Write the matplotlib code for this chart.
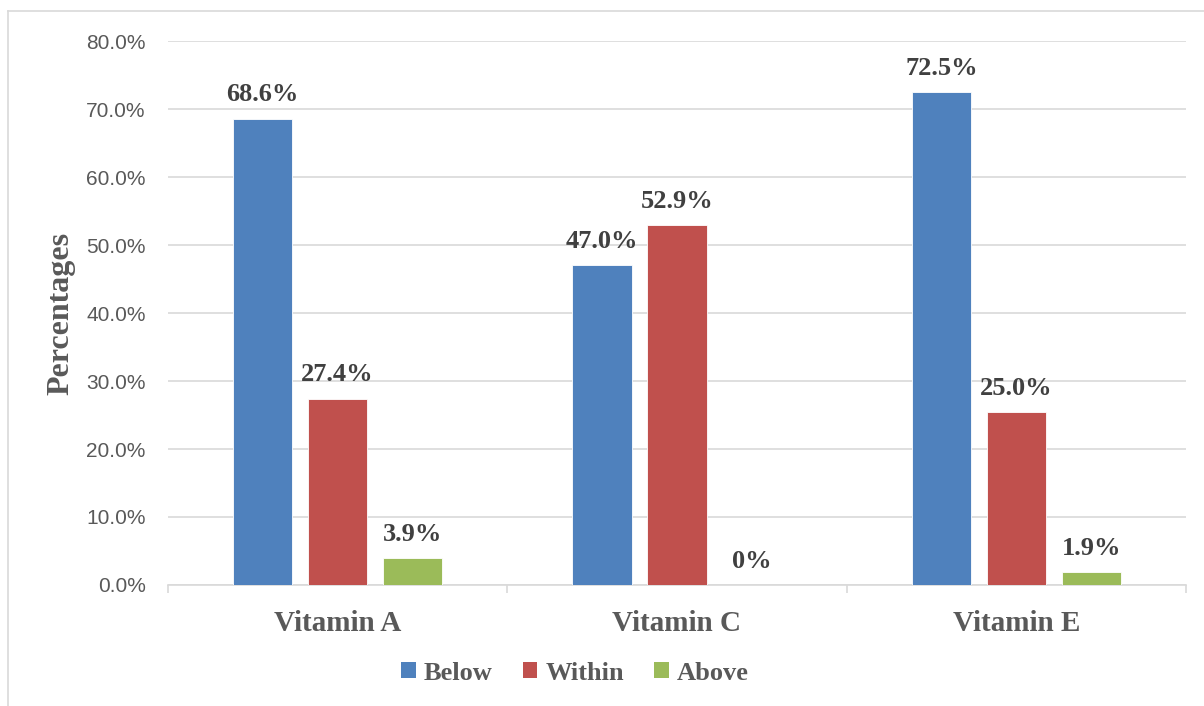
import matplotlib
matplotlib.use("Agg")
import matplotlib.pyplot as plt
import numpy as np
from matplotlib.lines import Line2D
from matplotlib.patches import Patch

categories = ["Vitamin A", "Vitamin C", "Vitamin E"]
series_names = ["Below", "Within", "Above"]
below = [68.6, 47.0, 72.5]
within = [27.4, 52.9, 25.4]
above = [3.9, 0.0, 1.9]
below_labels = ["68.6%", "47.0%", "72.5%"]
within_labels = ["27.4%", "52.9%", "25.0%"]
above_labels = ["3.9%", "0%", "1.9%"]
y_ticks = [0, 10, 20, 30, 40, 50, 60, 70, 80]

colors = ["#4F81BD", "#C0504D", "#9BBB59"]
serif = ["Liberation Serif", "DejaVu Serif"]
sans = ["Liberation Sans", "DejaVu Sans"]

fig = plt.figure(figsize=(12.04, 7.06), dpi=100)
ax = fig.add_axes([168/1204, 1-585/706, (1186-168)/1204, (585-41)/706])

x = np.arange(len(categories))
width = 0.174
offset = 0.221
series = [below, within, above]
labels = [below_labels, within_labels, above_labels]
for i, (vals, labs, col) in enumerate(zip(series, labels, colors)):
    pos = x + (i - 1) * offset
    ax.bar(pos, vals, width, color=col, edgecolor="white", linewidth=0.6, zorder=3)
    for p, v, t in zip(pos, vals, labs):
        ax.annotate(t, (p, v), xytext=(0, 9), textcoords="offset points",
                    ha="center", va="bottom", fontsize=19, fontweight="bold",
                    family=serif, color="#404040", zorder=4)

ax.set_xlim(-0.5, 2.5)
ax.set_ylim(0, 80)
ax.set_yticks(y_ticks)
ax.set_yticklabels([f"{t:.1f}%" for t in y_ticks], family=sans, fontsize=15, color="#595959")
ax.yaxis.grid(True, color="#D9D9D9", linewidth=1.2, zorder=0)
ax.set_axisbelow(True)
ax.tick_params(axis="y", length=0, pad=16)

ax.set_xticks(x)
ax.set_xticklabels(categories, family=serif, fontsize=21, fontweight="bold", color="#595959")
ax.tick_params(axis="x", which="major", length=0, pad=18)
ax.set_xticks([-0.5, 0.5, 1.5, 2.5], minor=True)
ax.tick_params(axis="x", which="minor", length=6, color="#D9D9D9", width=1.2)

for s in ["top", "right", "left"]:
    ax.spines[s].set_visible(False)
ax.spines["bottom"].set_color("#D9D9D9")
ax.spines["bottom"].set_linewidth(1.2)

fig.text(61/1204, 1-313/706, "Percentages", rotation=90, ha="center", va="center",
         family=serif, fontsize=23, fontweight="bold", color="#595959")

handles = [Patch(facecolor=c, edgecolor="none") for c in colors]
leg = fig.legend(handles, series_names, loc="center", bbox_to_anchor=(575/1204, 1-673/706),
                 ncol=3, frameon=False, handlelength=0.55, handleheight=0.55,
                 handletextpad=0.3, columnspacing=1.15,
                 prop={"family": serif, "size": 19, "weight": "bold"})
for t in leg.get_texts():
    t.set_color("#595959")

# chart frame (left and top edges)
fig.add_artist(Line2D([8/1204, 8/1204], [0, 1-11/706], transform=fig.transFigure,
                      color="#D9D9D9", linewidth=1.2))
fig.add_artist(Line2D([8/1204, 1], [1-11/706, 1-11/706], transform=fig.transFigure,
                      color="#D9D9D9", linewidth=1.2))

fig.savefig("out.png", dpi=100, facecolor="white")
